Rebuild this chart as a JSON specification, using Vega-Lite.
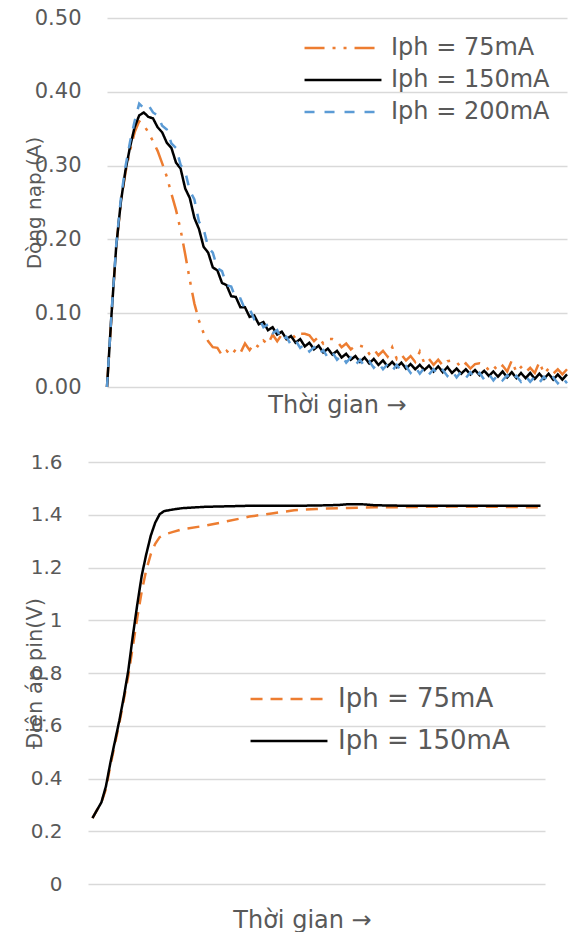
{
  "$schema": "https://vega.github.io/schema/vega-lite/v6.json",
  "background": "white",
  "padding": {"left": 23, "top": 7, "right": 0, "bottom": 0},
  "spacing": 35,
  "config": {
    "view": {"stroke": null},
    "font": "DejaVu Sans",
    "axis": {"labelColor": "#595959", "titleColor": "#595959", "titleFontWeight": "normal", "gridColor": "#D9D9D9", "gridWidth": 1.5, "ticks": false, "domain": false},
    "legend": {"labelColor": "#595959", "labelLimit": 400, "padding": 0}
  },
  "vconcat": [
    {"columns": 2, "align": "each", "spacing": 0, "concat": [
    {"width": 1, "height": 1, "data": {"values": []}, "mark": {"type": "point", "opacity": 0}, "encoding": {}},
    {
      "width": 460,
      "height": 369,
      "data": {"values": [
        {"t":0,"75mA":0,"150mA":0,"200mA":0},
        {"t":1,"75mA":0.1,"150mA":0.1,"200mA":0.102},
        {"t":2,"75mA":0.19,"150mA":0.19,"200mA":0.192},
        {"t":3,"75mA":0.25,"150mA":0.25,"200mA":0.255},
        {"t":4,"75mA":0.29,"150mA":0.293,"200mA":0.298},
        {"t":5,"75mA":0.32,"150mA":0.325,"200mA":0.332},
        {"t":6,"75mA":0.345,"150mA":0.352,"200mA":0.36},
        {"t":7,"75mA":0.36,"150mA":0.368,"200mA":0.384},
        {"t":8,"75mA":0.355,"150mA":0.372,"200mA":0.378},
        {"t":9,"75mA":0.345,"150mA":0.366,"200mA":0.382},
        {"t":10,"75mA":0.333,"150mA":0.364,"200mA":0.372},
        {"t":11,"75mA":0.32,"150mA":0.352,"200mA":0.368},
        {"t":12,"75mA":0.303,"150mA":0.345,"200mA":0.354},
        {"t":13,"75mA":0.285,"150mA":0.331,"200mA":0.349},
        {"t":14,"75mA":0.262,"150mA":0.324,"200mA":0.33},
        {"t":15,"75mA":0.24,"150mA":0.304,"200mA":0.324},
        {"t":16,"75mA":0.213,"150mA":0.296,"200mA":0.301},
        {"t":17,"75mA":0.18,"150mA":0.269,"200mA":0.292},
        {"t":18,"75mA":0.145,"150mA":0.256,"200mA":0.266},
        {"t":19,"75mA":0.113,"150mA":0.229,"200mA":0.254},
        {"t":20,"75mA":0.09,"150mA":0.214,"200mA":0.224},
        {"t":21,"75mA":0.073,"150mA":0.19,"200mA":0.214},
        {"t":22,"75mA":0.062,"150mA":0.182,"200mA":0.189},
        {"t":23,"75mA":0.054,"150mA":0.162,"200mA":0.182},
        {"t":24,"75mA":0.053,"150mA":0.158,"200mA":0.161},
        {"t":25,"75mA":0.043,"150mA":0.141,"200mA":0.157},
        {"t":26,"75mA":0.049,"150mA":0.138,"200mA":0.138},
        {"t":27,"75mA":0.043,"150mA":0.123,"200mA":0.136},
        {"t":28,"75mA":0.051,"150mA":0.122,"200mA":0.12},
        {"t":29,"75mA":0.046,"150mA":0.108,"200mA":0.12},
        {"t":30,"75mA":0.059,"150mA":0.108,"200mA":0.105},
        {"t":31,"75mA":0.05,"150mA":0.095,"200mA":0.106},
        {"t":32,"75mA":0.059,"150mA":0.097,"200mA":0.092},
        {"t":33,"75mA":0.054,"150mA":0.085,"200mA":0.094},
        {"t":34,"75mA":0.063,"150mA":0.088,"200mA":0.081},
        {"t":35,"75mA":0.058,"150mA":0.077,"200mA":0.085},
        {"t":36,"75mA":0.071,"150mA":0.081,"200mA":0.073},
        {"t":37,"75mA":0.062,"150mA":0.071,"200mA":0.077},
        {"t":38,"75mA":0.071,"150mA":0.075,"200mA":0.063},
        {"t":39,"75mA":0.065,"150mA":0.065,"200mA":0.068},
        {"t":40,"75mA":0.073,"150mA":0.069,"200mA":0.057},
        {"t":41,"75mA":0.066,"150mA":0.06,"200mA":0.063},
        {"t":42,"75mA":0.072,"150mA":0.065,"200mA":0.053},
        {"t":43,"75mA":0.072,"150mA":0.055,"200mA":0.058},
        {"t":44,"75mA":0.07,"150mA":0.06,"200mA":0.048},
        {"t":45,"75mA":0.062,"150mA":0.051,"200mA":0.054},
        {"t":46,"75mA":0.068,"150mA":0.056,"200mA":0.044},
        {"t":47,"75mA":0.059,"150mA":0.047,"200mA":0.05},
        {"t":48,"75mA":0.065,"150mA":0.052,"200mA":0.04},
        {"t":49,"75mA":0.065,"150mA":0.044,"200mA":0.047},
        {"t":50,"75mA":0.062,"150mA":0.049,"200mA":0.037},
        {"t":51,"75mA":0.054,"150mA":0.04,"200mA":0.043},
        {"t":52,"75mA":0.059,"150mA":0.045,"200mA":0.033},
        {"t":53,"75mA":0.051,"150mA":0.037,"200mA":0.04},
        {"t":54,"75mA":0.056,"150mA":0.042,"200mA":0.03},
        {"t":55,"75mA":0.056,"150mA":0.034,"200mA":0.037},
        {"t":56,"75mA":0.054,"150mA":0.04,"200mA":0.028},
        {"t":57,"75mA":0.045,"150mA":0.032,"200mA":0.035},
        {"t":58,"75mA":0.051,"150mA":0.038,"200mA":0.026},
        {"t":59,"75mA":0.043,"150mA":0.03,"200mA":0.033},
        {"t":60,"75mA":0.049,"150mA":0.036,"200mA":0.024},
        {"t":61,"75mA":0.041,"150mA":0.028,"200mA":0.031},
        {"t":62,"75mA":0.054,"150mA":0.034,"200mA":0.022},
        {"t":63,"75mA":0.038,"150mA":0.027,"200mA":0.03},
        {"t":64,"75mA":0.044,"150mA":0.033,"200mA":0.021},
        {"t":65,"75mA":0.036,"150mA":0.025,"200mA":0.028},
        {"t":66,"75mA":0.042,"150mA":0.031,"200mA":0.019},
        {"t":67,"75mA":0.034,"150mA":0.024,"200mA":0.027},
        {"t":68,"75mA":0.048,"150mA":0.03,"200mA":0.018},
        {"t":69,"75mA":0.032,"150mA":0.023,"200mA":0.026},
        {"t":70,"75mA":0.038,"150mA":0.029,"200mA":0.017},
        {"t":71,"75mA":0.03,"150mA":0.021,"200mA":0.024},
        {"t":72,"75mA":0.037,"150mA":0.028,"200mA":0.016},
        {"t":73,"75mA":0.029,"150mA":0.02,"200mA":0.023},
        {"t":74,"75mA":0.035,"150mA":0.027,"200mA":0.015},
        {"t":75,"75mA":0.036,"150mA":0.019,"200mA":0.022},
        {"t":76,"75mA":0.034,"150mA":0.025,"200mA":0.013},
        {"t":77,"75mA":0.026,"150mA":0.018,"200mA":0.021},
        {"t":78,"75mA":0.032,"150mA":0.024,"200mA":0.012},
        {"t":79,"75mA":0.025,"150mA":0.017,"200mA":0.02},
        {"t":80,"75mA":0.031,"150mA":0.023,"200mA":0.011},
        {"t":81,"75mA":0.032,"150mA":0.016,"200mA":0.019},
        {"t":82,"75mA":0.03,"150mA":0.022,"200mA":0.01},
        {"t":83,"75mA":0.023,"150mA":0.015,"200mA":0.018},
        {"t":84,"75mA":0.029,"150mA":0.021,"200mA":0.009},
        {"t":85,"75mA":0.022,"150mA":0.014,"200mA":0.017},
        {"t":86,"75mA":0.029,"150mA":0.021,"200mA":0.009},
        {"t":87,"75mA":0.021,"150mA":0.013,"200mA":0.016},
        {"t":88,"75mA":0.036,"150mA":0.02,"200mA":0.008},
        {"t":89,"75mA":0.02,"150mA":0.012,"200mA":0.015},
        {"t":90,"75mA":0.027,"150mA":0.019,"200mA":0.007},
        {"t":91,"75mA":0.02,"150mA":0.012,"200mA":0.015},
        {"t":92,"75mA":0.026,"150mA":0.019,"200mA":0.007},
        {"t":93,"75mA":0.019,"150mA":0.011,"200mA":0.014},
        {"t":94,"75mA":0.034,"150mA":0.018,"200mA":0.006},
        {"t":95,"75mA":0.018,"150mA":0.011,"200mA":0.014},
        {"t":96,"75mA":0.025,"150mA":0.018,"200mA":0.006},
        {"t":97,"75mA":0.018,"150mA":0.01,"200mA":0.013},
        {"t":98,"75mA":0.024,"150mA":0.017,"200mA":0.005},
        {"t":99,"75mA":0.017,"150mA":0.01,"200mA":0.013},
        {"t":100,"75mA":0.024,"150mA":0.017,"200mA":0.005}
      ]},
      "transform": [{"fold": ["75mA", "150mA", "200mA"], "as": ["series", "value"]}],
      "mark": {"type": "line", "strokeWidth": 2.5},
      "encoding": {
        "x": {"field": "t", "type": "quantitative", "scale": {"domain": [0, 100], "nice": false, "zero": false},
          "axis": {"title": "Thời gian →", "labels": false, "grid": false, "titleFontSize": 24, "titleY": 25, "titleBaseline": "alphabetic"}},
        "y": {"field": "value", "type": "quantitative", "scale": {"domain": [0, 0.5], "nice": false},
          "axis": {"title": "Dòng nạp (A)", "values": [0, 0.1, 0.2, 0.3, 0.4, 0.5], "format": ".2f", "labelFontSize": 21, "labelPadding": 26, "titleFontSize": 20, "titleX": -73, "titleY": 184.5, "titleBaseline": "middle"}},
        "color": {"field": "series", "type": "nominal", "sort": ["75mA", "150mA", "200mA"],
          "scale": {"domain": ["75mA", "150mA", "200mA"], "range": ["#ED7D31", "#000000", "#5B9BD5"]},
          "legend": {"title": null, "orient": "none", "legendX": 279, "legendY": 18, "symbolType": "M-4,0H4", "symbolSize": 370, "symbolStrokeWidth": 2.5, "symbolOffset": 29, "labelOffset": 36, "labelFontSize": 24, "labelExpr": "'Iph = ' + datum.label", "rowPadding": 8}},
        "strokeDash": {"field": "series", "type": "nominal", "sort": ["75mA", "150mA", "200mA"],
          "scale": {"domain": ["75mA", "150mA", "200mA"], "range": [[20, 8, 3, 8, 3, 8], [1, 0], [10, 10]]},
          "legend": {"title": null, "orient": "none", "legendX": 279, "legendY": 18, "symbolType": "M-4,0H4", "symbolSize": 370, "symbolStrokeWidth": 2.5, "symbolOffset": 29, "labelOffset": 36, "labelFontSize": 24, "labelExpr": "'Iph = ' + datum.label", "rowPadding": 8}}
      }
    }]},
    {"columns": 2, "align": "each", "spacing": 0, "concat": [
    {"width": 1, "height": 1, "data": {"values": []}, "mark": {"type": "point", "opacity": 0}, "encoding": {}},
    {
      "width": 457,
      "height": 422,
      "data": {"values": [
        {"t":0,"75mA":0.25,"150mA":0.25},
        {"t":1,"75mA":0.28,"150mA":0.28},
        {"t":2,"75mA":0.31,"150mA":0.31},
        {"t":3,"75mA":0.36,"150mA":0.37},
        {"t":4,"75mA":0.45,"150mA":0.46},
        {"t":5,"75mA":0.53,"150mA":0.54},
        {"t":6,"75mA":0.61,"150mA":0.62},
        {"t":7,"75mA":0.7,"150mA":0.71},
        {"t":8,"75mA":0.79,"150mA":0.81},
        {"t":9,"75mA":0.9,"150mA":0.94},
        {"t":10,"75mA":1.01,"150mA":1.06},
        {"t":11,"75mA":1.11,"150mA":1.17},
        {"t":12,"75mA":1.19,"150mA":1.25},
        {"t":13,"75mA":1.25,"150mA":1.32},
        {"t":14,"75mA":1.29,"150mA":1.37},
        {"t":15,"75mA":1.315,"150mA":1.402},
        {"t":16,"75mA":1.325,"150mA":1.414},
        {"t":18,"75mA":1.335,"150mA":1.42},
        {"t":20,"75mA":1.345,"150mA":1.425},
        {"t":25,"75mA":1.358,"150mA":1.43},
        {"t":30,"75mA":1.375,"150mA":1.432},
        {"t":35,"75mA":1.393,"150mA":1.434},
        {"t":40,"75mA":1.405,"150mA":1.434},
        {"t":45,"75mA":1.417,"150mA":1.434},
        {"t":50,"75mA":1.422,"150mA":1.435},
        {"t":55,"75mA":1.425,"150mA":1.437},
        {"t":57,"75mA":1.426,"150mA":1.44},
        {"t":60,"75mA":1.427,"150mA":1.44},
        {"t":63,"75mA":1.428,"150mA":1.436},
        {"t":70,"75mA":1.429,"150mA":1.434},
        {"t":80,"75mA":1.431,"150mA":1.434},
        {"t":90,"75mA":1.43,"150mA":1.434},
        {"t":100,"75mA":1.428,"150mA":1.434}
      ]},
      "transform": [{"fold": ["75mA", "150mA"], "as": ["series", "value"]}],
      "mark": {"type": "line", "strokeWidth": 2.5},
      "encoding": {
        "x": {"field": "t", "type": "quantitative", "scale": {"domain": [-1, 101], "nice": false, "zero": false},
          "axis": {"title": "Thời gian →", "labels": false, "grid": false, "titleFontSize": 24, "titleX": 214, "titleY": 43, "titleBaseline": "alphabetic"}},
        "y": {"field": "value", "type": "quantitative", "scale": {"domain": [0, 1.6], "nice": false},
          "axis": {"title": "Điện áp pin(V)", "values": [0, 0.2, 0.4, 0.6, 0.8, 1, 1.2, 1.4, 1.6], "format": "~g", "labelFontSize": 20, "labelPadding": 26, "titleFontSize": 21, "titleX": -52.5, "titleY": 211, "titleBaseline": "middle"}},
        "color": {"field": "series", "type": "nominal", "sort": ["75mA", "150mA"],
          "scale": {"domain": ["75mA", "150mA"], "range": ["#ED7D31", "#000000"]},
          "legend": {"title": null, "orient": "none", "legendX": 224, "legendY": 224, "symbolType": "M-4,0H4", "symbolSize": 370, "symbolStrokeWidth": 2.5, "symbolOffset": 29, "labelOffset": 36, "labelFontSize": 26, "labelExpr": "'Iph = ' + datum.label", "rowPadding": 16}},
        "strokeDash": {"field": "series", "type": "nominal", "sort": ["75mA", "150mA"],
          "scale": {"domain": ["75mA", "150mA"], "range": [[12, 8], [1, 0]]},
          "legend": {"title": null, "orient": "none", "legendX": 224, "legendY": 224, "symbolType": "M-4,0H4", "symbolSize": 370, "symbolStrokeWidth": 2.5, "symbolOffset": 29, "labelOffset": 36, "labelFontSize": 26, "labelExpr": "'Iph = ' + datum.label", "rowPadding": 16}}
      }
    }]}
  ],
  "resolve": {"scale": {"color": "independent", "strokeDash": "independent"}, "legend": {"color": "independent", "strokeDash": "independent"}}
}
